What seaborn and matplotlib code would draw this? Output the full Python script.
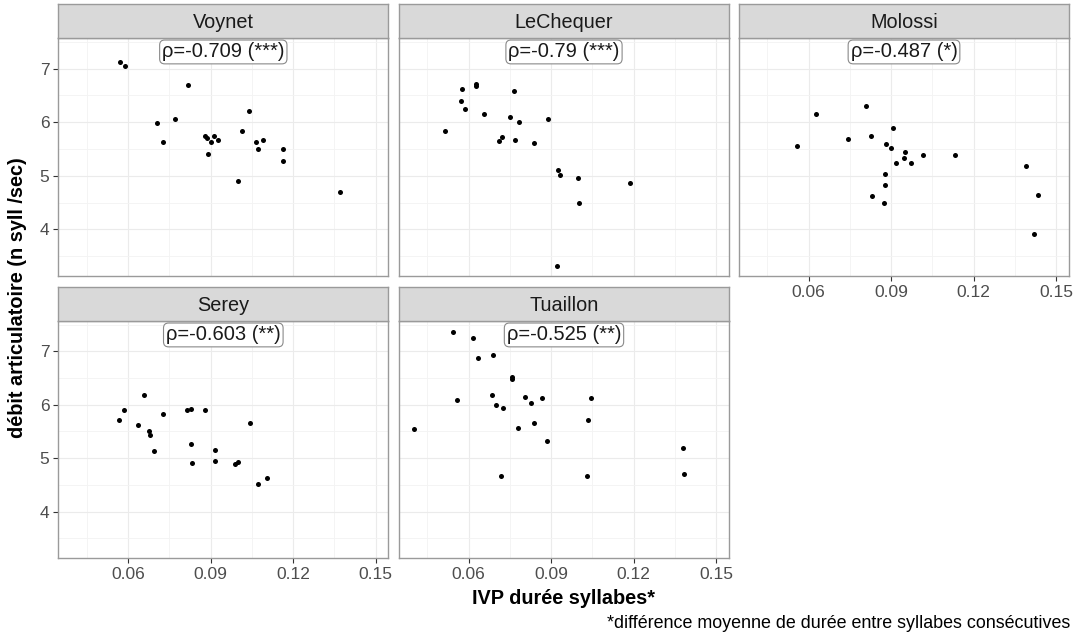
import matplotlib
matplotlib.use("Agg")
import matplotlib.pyplot as plt
import pandas as pd
import seaborn as sns

speakers = ["Voynet", "LeChequer", "Molossi", "Serey", "Tuaillon"]
rho_labels = ["ρ=-0.709 (***)", "ρ=-0.79 (***)", "ρ=-0.487 (*)",
              "ρ=-0.603 (**)", "ρ=-0.525 (**)"]

voynet_ivp = [0.0571, 0.0590, 0.0819, 0.0706, 0.0771, 0.0727, 0.1041, 0.1013, 0.0879, 0.0889, 0.0902,
              0.0913, 0.0926, 0.0892, 0.1065, 0.1090, 0.1071, 0.1163, 0.1163, 0.1000, 0.1370]
voynet_debit = [7.12, 7.04, 6.70, 5.98, 6.06, 5.63, 6.20, 5.84, 5.75, 5.70, 5.63,
                5.75, 5.67, 5.40, 5.63, 5.66, 5.49, 5.50, 5.28, 4.91, 4.70]

lechequer_ivp = [0.0576, 0.0628, 0.0628, 0.0766, 0.0571, 0.0588, 0.0657, 0.0751, 0.0784, 0.0889, 0.0515,
                 0.0720, 0.0710, 0.0768, 0.0837, 0.0923, 0.0933, 0.0998, 0.1185, 0.1002, 0.0920]
lechequer_debit = [6.62, 6.72, 6.68, 6.59, 6.39, 6.24, 6.16, 6.10, 6.01, 6.05, 5.84,
                   5.73, 5.65, 5.66, 5.62, 5.11, 5.01, 4.96, 4.86, 4.49, 3.31]

molossi_ivp = [0.0557, 0.0628, 0.0807, 0.0744, 0.0827, 0.0907, 0.0882, 0.0899, 0.0950, 0.0948, 0.0916,
               0.0972, 0.1017, 0.1133, 0.0877, 0.0878, 0.0829, 0.0873, 0.1391, 0.1435, 0.1420]
molossi_debit = [5.56, 6.16, 6.31, 5.68, 5.74, 5.89, 5.60, 5.52, 5.44, 5.34, 5.24,
                 5.23, 5.39, 5.38, 5.03, 4.83, 4.63, 4.49, 5.18, 4.64, 3.91]

serey_ivp = [0.0566, 0.0585, 0.0657, 0.0637, 0.0678, 0.0680, 0.0694, 0.0728, 0.0816, 0.0830,
             0.0881, 0.0828, 0.0833, 0.0915, 0.0917, 0.0990, 0.1001, 0.1042, 0.1073, 0.1105]
serey_debit = [5.71, 5.90, 6.18, 5.63, 5.51, 5.43, 5.13, 5.83, 5.90, 5.92,
               5.90, 5.26, 4.91, 5.16, 4.94, 4.89, 4.92, 5.66, 4.51, 4.63]

tuaillon_ivp = [0.0544, 0.0617, 0.0635, 0.0689, 0.0756, 0.0759, 0.0559, 0.0684, 0.0698, 0.0726, 0.0806, 0.0826,
                0.0866, 0.1043, 0.0400, 0.0780, 0.0839, 0.1034, 0.0883, 0.1379, 0.0719, 0.1031, 0.1384]
tuaillon_debit = [7.37, 7.26, 6.87, 6.94, 6.52, 6.48, 6.09, 6.19, 6.00, 5.94, 6.14, 6.03,
                  6.12, 6.13, 5.54, 5.57, 5.66, 5.71, 5.32, 5.19, 4.67, 4.66, 4.70]

x_ticks = [0.06, 0.09, 0.12, 0.15]
x_tick_labels = ["0.06", "0.09", "0.12", "0.15"]
y_ticks = [4, 5, 6, 7]

series = {
    "Voynet": (voynet_ivp, voynet_debit),
    "LeChequer": (lechequer_ivp, lechequer_debit),
    "Molossi": (molossi_ivp, molossi_debit),
    "Serey": (serey_ivp, serey_debit),
    "Tuaillon": (tuaillon_ivp, tuaillon_debit),
}
frames = []
for name, (xs, ys) in series.items():
    frames.append(pd.DataFrame({"speaker": name, "ivp": xs, "debit": ys}))
df = pd.concat(frames, ignore_index=True)

sns.set_theme(style="white")
plt.rcParams["font.family"] = ["Liberation Sans", "DejaVu Sans"]

W, H = 1075, 634
fig = plt.figure(figsize=(W / 100, H / 100), dpi=100)

col_left = [58.3, 399, 739]
panel_w = 330
rows = [(38, 276, 4), (321, 558, 287)]  # panel top, panel bottom, strip top

border = "#9A9A9A"

for i, name in enumerate(speakers):
    r, c = divmod(i, 3)
    ptop, pbot, stop = rows[r]
    left = col_left[c] / W
    ax = fig.add_axes([left, 1 - pbot / H, panel_w / W, (pbot - ptop) / H])
    sns.scatterplot(data=df[df["speaker"] == name], x="ivp", y="debit", ax=ax,
                    color="black", s=13, linewidth=0, zorder=3, legend=False)
    ax.set_xlim(0.0347, 0.1546)
    ax.set_ylim(3.13, 7.57)
    ax.set_xticks(x_ticks)
    ax.set_xticklabels(x_tick_labels)
    ax.set_yticks(y_ticks)
    ax.set_xticks([0.045, 0.075, 0.105, 0.135], minor=True)
    ax.set_yticks([3.5, 4.5, 5.5, 6.5, 7.5], minor=True)
    ax.set_axisbelow(True)
    ax.grid(which="major", color="#EBEBEB", linewidth=0.8)
    ax.grid(which="minor", color="#F3F3F3", linewidth=0.6)
    for sp in ax.spines.values():
        sp.set_color(border)
        sp.set_linewidth(1.0)
    ax.set_xlabel("")
    ax.set_ylabel("")
    show_x = (r == 1) or (name == "Molossi")
    show_y = (c == 0)
    ax.tick_params(axis="x", which="major", bottom=show_x, labelbottom=show_x,
                   length=3.5, width=0.8, color="#333333", labelsize=12.5,
                   labelcolor="#4D4D4D", pad=3)
    ax.tick_params(axis="y", which="major", left=show_y, labelleft=show_y,
                   length=3.5, width=0.8, color="#333333", labelsize=12.5,
                   labelcolor="#4D4D4D", pad=3)
    ax.tick_params(which="minor", length=0)

    ax.annotate(rho_labels[i], xy=(0.5, 1), xycoords="axes fraction",
                xytext=(0, -3.2), textcoords="offset points",
                ha="center", va="top", fontsize=14.5, color="#1A1A1A",
                bbox=dict(boxstyle="round,pad=0.12,rounding_size=0.25",
                          fc="white", ec="#8A8A8A", lw=0.8), zorder=5)

    sax = fig.add_axes([left, 1 - ptop / H, panel_w / W, (ptop - stop) / H])
    sax.set_facecolor("#D9D9D9")
    sax.set_xticks([])
    sax.set_yticks([])
    for sp in sax.spines.values():
        sp.set_color(border)
        sp.set_linewidth(1.0)
    sax.text(0.5, 0.47, name, ha="center", va="center", fontsize=14.3,
             color="#1A1A1A", transform=sax.transAxes)

fig.text(563.5 / W, 1 - 599 / H, "IVP durée syllabes*", ha="center", va="center",
         fontsize=14.3, fontweight="bold", color="black")
fig.text(18 / W, 1 - 298 / H, "débit articulatoire (n syll /sec)", ha="center",
         va="center", rotation=90, fontsize=14.3, fontweight="bold", color="black")
fig.text(1070 / W, 1 - 624 / H, "*différence moyenne de durée entre syllabes consécutives",
         ha="right", va="center", fontsize=12.9, color="black")

fig.savefig("out.png", dpi=100, facecolor="white")
